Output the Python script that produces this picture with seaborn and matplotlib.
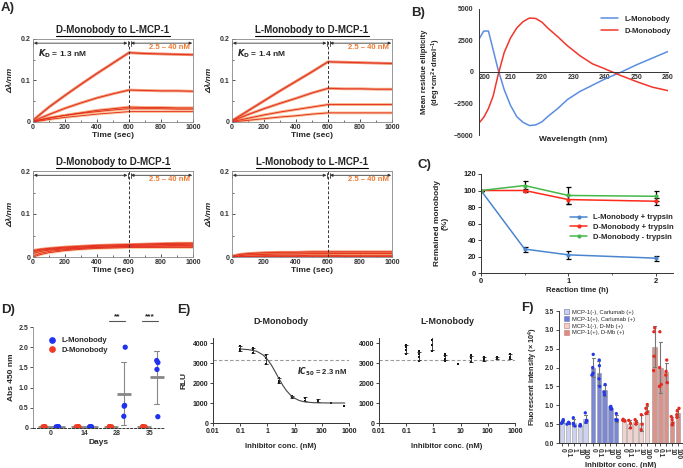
import numpy as np
import pandas as pd
import matplotlib
matplotlib.use("Agg")
import matplotlib.pyplot as plt
import seaborn as sns
from matplotlib.lines import Line2D
from matplotlib.patches import Patch

# ---------------- A) BLI sensorgrams, 2.5 - 40 nM ----------------
time_sec = [0, 50, 100, 200, 300, 400, 500, 600, 700, 800, 900, 1000]
dmono_lmcp = [
    [0.004, 0.020, 0.036, 0.064, 0.091, 0.117, 0.142, 0.167, 0.165, 0.164, 0.163, 0.162],
    [0.002, 0.010, 0.018, 0.033, 0.046, 0.058, 0.068, 0.077, 0.076, 0.075, 0.075, 0.074],
    [0.001, 0.005, 0.009, 0.016, 0.022, 0.028, 0.032, 0.036, 0.035, 0.035, 0.034, 0.034],
    [0.002, 0.006, 0.010, 0.016, 0.021, 0.025, 0.029, 0.032, 0.032, 0.032, 0.031, 0.031],
    [0.000, 0.003, 0.006, 0.011, 0.015, 0.019, 0.022, 0.025, 0.025, 0.025, 0.025, 0.025],
]
lmono_dmcp = [
    [0.003, 0.015, 0.027, 0.051, 0.075, 0.098, 0.121, 0.145, 0.144, 0.143, 0.142, 0.141],
    [0.002, 0.010, 0.018, 0.032, 0.045, 0.057, 0.070, 0.081, 0.080, 0.080, 0.079, 0.079],
    [0.001, 0.005, 0.009, 0.017, 0.024, 0.030, 0.036, 0.042, 0.042, 0.042, 0.042, 0.042],
    [0.000, 0.002, 0.004, 0.008, 0.012, 0.015, 0.019, 0.022, 0.022, 0.022, 0.022, 0.022],
]
dmono_dmcp = [
    [0.015, 0.018, 0.020, 0.023, 0.025, 0.027, 0.028, 0.029, 0.030, 0.031, 0.032, 0.032],
    [0.012, 0.016, 0.018, 0.021, 0.023, 0.025, 0.026, 0.027, 0.028, 0.029, 0.029, 0.030],
    [0.008, 0.013, 0.016, 0.019, 0.021, 0.023, 0.024, 0.025, 0.026, 0.026, 0.027, 0.027],
    [0.003, 0.009, 0.013, 0.017, 0.020, 0.022, 0.023, 0.024, 0.024, 0.025, 0.025, 0.025],
    [0.000, 0.006, 0.010, 0.015, 0.018, 0.020, 0.021, 0.022, 0.022, 0.022, 0.022, 0.022],
]
lmono_lmcp = [
    [0.002, 0.006, 0.008, 0.010, 0.011, 0.011, 0.012, 0.012, 0.012, 0.012, 0.012, 0.012],
    [0.000, 0.003, 0.005, 0.006, 0.007, 0.007, 0.008, 0.008, 0.008, 0.008, 0.008, 0.008],
    [0.000, 0.001, 0.002, 0.003, 0.003, 0.003, 0.004, 0.004, 0.003, 0.003, 0.003, 0.003],
    [0.000, 0.000, 0.001, 0.001, 0.001, 0.001, 0.001, 0.001, 0.001, 0.001, 0.001, 0.001],
]

# ---------------- B) CD spectra ----------------
wavelength = [200, 201.5, 203, 204.5, 206, 208, 210, 212, 214, 216, 218, 220, 222,
              225, 228, 232, 236, 240, 245, 250, 255, 260]
cd_L = [2600, 3250, 3250, 1750, 250, -1400, -2650, -3550, -4000, -4250, -4200, -3950, -3500,
        -2900, -2200, -1550, -1050, -550, -20, 570, 1100, 1630]
cd_D = [-4050, -3600, -2900, -1900, -300, 1550, 2700, 3500, 4000, 4280, 4250, 3950, 3450,
        2800, 2100, 1300, 650, 250, -280, -760, -1200, -1480]

# ---------------- C) trypsin digestion ----------------
reaction_h = [0, 0.5, 1, 2]
L_tryp = [100, 29, 22, 18]
L_tryp_err = [0, 3, 5, 3]
D_tryp = [100, 100, 89, 87]
D_tryp_err = [0, 2, 5, 4]
D_notryp = [100, 106, 94, 93]
D_notryp_err = [0, 6, 10, 6]

# ---------------- D) antibody titre ----------------
days = ['0', '14', '28', '35']
abs_L = [[0.03, 0.03, 0.03, 0.03], [0.03, 0.03, 0.03, 0.03],
         [2.00, 0.56, 0.54, 0.29], [1.67, 1.62, 1.45, 0.28]]
abs_D = [[0.03, 0.03, 0.03, 0.03], [0.03, 0.03, 0.03, 0.03],
         [0.03, 0.03, 0.03, 0.03], [0.03, 0.03, 0.03, 0.03]]

# ---------------- E) inhibition assay ----------------
inh_conc = [0.1, 0.3, 0.9, 2.7, 8.1, 24.3, 72.9, 218.7, 656.1]
rlu_D = [[3830, 3720, 3580], [3750, 3630, 3500], [3420, 3250, 2950], [2250, 2120, 2000],
         [1330, 1280], [1250, 1120], [1170, 1050], [1000], [830]]
rlu_L = [[3920, 3800, 3650, 3450], [3580, 3470, 3280, 3120], [4330, 4170, 3920, 3580],
         [3450, 3330, 3200, 3120], [2950], [3380, 3250, 3120, 3030], [3300, 3200, 3080],
         [3280, 3200], [3450, 3320, 3200]]
fit_conc = [0.1, 0.2, 0.4, 0.7, 1.0, 1.4, 2.0, 2.7, 3.7, 5.0, 7.0, 10, 15, 25, 50, 100, 300, 700]
fit_rlu = [3700, 3670, 3590, 3400, 3180, 2900, 2530, 2200, 1880, 1620, 1400, 1240, 1120,
           1050, 1015, 1005, 1000, 1000]
rlu_baseline = 3150

# ---------------- F) fluorescence ----------------
F_conc = ['0', '0.1', '1', '10', '100']
F_groups = ['MCP-1(-), Carlumab (+)', 'MCP-1(+), Carlumab (+)',
            'MCP-1(-), D-Mb (+)', 'MCP-1(+), D-Mb (+)']
F_carl_neg = [[0.62, 0.58, 0.55, 0.52], [0.55, 0.50, 0.52], [0.67, 0.52, 0.50, 0.45],
              [0.49, 0.47, 0.45], [0.80, 0.60, 0.58, 0.55]]
F_carl_pos = [[2.35, 2.00, 1.85, 1.80], [2.20, 2.05, 1.70, 1.50], [1.55, 1.35, 1.28],
              [0.97, 0.95, 0.90, 0.90], [0.78, 0.62, 0.60, 0.60]]
F_dmb_neg = [[0.63, 0.60, 0.58], [0.60, 0.52, 0.40], [0.62, 0.55, 0.50],
             [0.75, 0.50, 0.35], [1.02, 0.92, 0.82, 0.78]]
F_dmb_pos = [[3.05, 2.95, 2.30, 1.92], [2.95, 2.00, 1.55, 1.50], [2.20, 1.90, 1.80, 1.60],
             [0.70, 0.62, 0.52, 0.48], [0.92, 0.85, 0.75, 0.68]]

# ---------------- style ----------------
sns.set_theme(style='ticks')
plt.rcParams['font.family'] = ['Liberation Sans', 'DejaVu Sans']
plt.rcParams['font.weight'] = 'bold'
plt.rcParams['axes.labelweight'] = 'bold'
plt.rcParams['axes.titleweight'] = 'bold'
plt.rcParams['axes.linewidth'] = 0.7
plt.rcParams['axes.edgecolor'] = '#333333'
plt.rcParams['xtick.major.size'] = 2
plt.rcParams['ytick.major.size'] = 2
plt.rcParams['xtick.major.width'] = 0.6
plt.rcParams['ytick.major.width'] = 0.6
plt.rcParams['xtick.major.pad'] = 1.5
plt.rcParams['ytick.major.pad'] = 1.5
plt.rcParams['mathtext.default'] = 'regular'

W, H = 683, 468
fig = plt.figure(figsize=(W / 100, H / 100), dpi=100)


def box(l, t, r, b):
    return fig.add_axes([l / W, 1 - b / H, (r - l) / W, (b - t) / H])


def label(x, y, s):
    fig.text(x / W, 1 - y / H, s, ha='left', va='top', fontsize=9.5, fontweight='bold')


trace_colors = ['#e85522', '#ee7035', '#f28a48', '#f5a060', '#f7b47a']
fit_red = '#e3261c'


def draw_sensorgram(ax, curves, title, kd=None):
    n = len(curves)
    df = pd.DataFrame({
        'time': np.tile(time_sec, n),
        'shift': np.concatenate(curves),
        'conc': np.repeat(['c%d' % i for i in range(n)], len(time_sec)),
    })
    sns.lineplot(data=df, x='time', y='shift', hue='conc', palette=trace_colors[:n],
                 linewidth=2.0, alpha=0.7, legend=False, ax=ax)
    sns.lineplot(data=df, x='time', y='shift', hue='conc', palette=[fit_red] * n,
                 linewidth=0.6, legend=False, ax=ax)
    ax.axvline(600, color='#333333', ls=(0, (3, 2)), lw=0.7)
    ax.annotate('', xy=(5, 0.19), xytext=(590, 0.19),
                arrowprops=dict(arrowstyle='<|-|>', color='#333333', lw=0.6,
                                mutation_scale=4, shrinkA=0, shrinkB=0))
    ax.annotate('', xy=(612, 0.19), xytext=(995, 0.19),
                arrowprops=dict(arrowstyle='<|-|>', color='#333333', lw=0.6,
                                mutation_scale=4, shrinkA=0, shrinkB=0))
    for xe in (3, 592, 610, 997):
        ax.plot([xe, xe], [0.184, 0.196], color='#333333', lw=0.6)
    ax.text(980, 0.18, '2.5 – 40 nM', color='#f07a30', fontsize=5.5, ha='right', va='center')
    if kd:
        ax.text(30, 0.163, '$\\mathbfit{K}_{\\mathbf{D}}$' + ' = %s' % kd, fontsize=6,
                ha='left', va='center')
    ax.set_xlim(0, 1000)
    ax.set_ylim(0, 0.2)
    ax.set_xticks(range(0, 1001, 200))
    ax.set_xticks(range(100, 1000, 200), minor=True)
    ax.set_yticks([0, 0.1, 0.2])
    ax.set_yticklabels(['0', '0.1', '0.2'])
    ax.set_yticks([0.05, 0.15], minor=True)
    ax.tick_params(which='both', direction='in', labelsize=5, colors='#333333')
    ax.tick_params(which='minor', length=1.5, width=0.5)
    for s in ax.spines.values():
        s.set_color('#888888')
        s.set_linewidth(0.6)
    ax.set_xlabel('Time (sec)', fontsize=6, labelpad=1)
    ax.set_ylabel('Δλ/nm', fontsize=6, style='italic')
    ax.yaxis.set_label_coords(-0.12, 0.5)
    return ax.set_title(title, fontsize=7, pad=4)


titles = []
a1 = box(33, 39, 193, 122)
titles.append(draw_sensorgram(a1, dmono_lmcp, 'D-Monobody to L-MCP-1', '1.3 nM'))
a2 = box(232, 39, 392, 122)
titles.append(draw_sensorgram(a2, lmono_dmcp, 'L-Monobody to D-MCP-1', '1.4 nM'))
a3 = box(33, 171, 193, 257)
titles.append(draw_sensorgram(a3, dmono_dmcp, 'D-Monobody to D-MCP-1'))
a4 = box(232, 171, 392, 257)
titles.append(draw_sensorgram(a4, lmono_lmcp, 'L-Monobody to L-MCP-1'))

# ---------------- B ----------------
axb = box(479, 9, 668, 135)
cd_df = pd.DataFrame({'wl': wavelength * 2, 'cd': cd_L + cd_D,
                      'form': ['L-Monobody'] * len(cd_L) + ['D-Monobody'] * len(cd_D)})
sns.lineplot(data=cd_df, x='wl', y='cd', hue='form',
             palette={'L-Monobody': '#5b8de0', 'D-Monobody': '#f2352a'}, lw=1.1, ax=axb)
axb.set_xlim(200, 260)
axb.set_ylim(-5000, 5000)
axb.set_xticks(range(200, 261, 10))
axb.set_yticks([-5000, -2500, 0, 2500, 5000])
axb.spines['bottom'].set_position(('data', 0))
axb.spines[['top', 'right']].set_visible(False)
axb.tick_params(labelsize=5, colors='#333333', length=0)
axb.tick_params(axis='y', pad=4)
axb.get_xticklabels()[0].set_ha('left')
axb.set_xlabel('Wavelength (nm)', fontsize=6, va='top')
axb.xaxis.set_label_coords(0.5, -0.01)
axb.set_ylabel('Mean residue ellipticity\n(deg•cm$^2$•dmol$^{-1}$)', fontsize=5.5, linespacing=1.2)
axb.yaxis.set_label_coords(-0.19, 0.5)
axb.legend(loc='center right', bbox_to_anchor=(1.05, 0.87), frameon=False, fontsize=5.5,
           handlelength=2.2, labelspacing=0.6, title=None)

# ---------------- C ----------------
axc = box(481, 174, 673, 273)
c_names = ['L-Monobody + trypsin', 'D-Monobody + trypsin', 'D-Monobody - trypsin']
c_vals = [L_tryp, D_tryp, D_notryp]
c_errs = [L_tryp_err, D_tryp_err, D_notryp_err]
c_cols = ['#4a86d0', '#ff2a1a', '#45b84a']
c_df = pd.DataFrame({'time': reaction_h * 3, 'value': sum(c_vals, []),
                     'series': np.repeat(c_names, len(reaction_h))})
for v, e in zip(c_vals, c_errs):
    axc.errorbar(reaction_h, v, yerr=e, fmt='none', ecolor='black', elinewidth=0.9,
                 capsize=1.8, capthick=0.9, zorder=1)
sns.lineplot(data=c_df, x='time', y='value', hue='series', palette=c_cols, marker='o',
             markersize=3, markeredgewidth=0, lw=1.1, ax=axc, zorder=2)
axc.set_xlim(0, 2.2)
axc.set_ylim(0, 120)
axc.set_xticks([0, 1, 2])
axc.set_xticks([0.5, 1.5], minor=True)
axc.set_yticks(range(0, 121, 20))
axc.spines[['top', 'right']].set_visible(False)
axc.tick_params(labelsize=5.5, colors='#222222')
axc.tick_params(which='minor', length=1.5, width=0.5)
axc.set_xlabel('Reaction time (h)', fontsize=5.5, labelpad=1.5)
axc.set_ylabel('Remained monobody\n(%)', fontsize=6, linespacing=1.1)
axc.yaxis.set_label_coords(-0.17, 0.5)
axc.legend(loc='center right', bbox_to_anchor=(1.04, 0.46), frameon=False, fontsize=5.5,
           handlelength=2.2, labelspacing=0.3, title=None)

# ---------------- D ----------------
axd = box(33, 327, 165, 428)
d_rows = []
for i, d in enumerate(days):
    for v in abs_D[i]:
        d_rows.append((d, 'D-Monobody', v))
    for v in abs_L[i]:
        d_rows.append((d, 'L-Monobody', v))
d_df = pd.DataFrame(d_rows, columns=['day', 'mono', 'abs'])
d_pal = {'D-Monobody': '#f03a22', 'L-Monobody': '#1f32f0'}
sns.pointplot(data=d_df, x='day', y='abs', hue='mono', hue_order=['D-Monobody', 'L-Monobody'],
              palette={'D-Monobody': '#888888', 'L-Monobody': '#888888'}, dodge=0.4,
              errorbar='sd', capsize=0.15, markers='_', markersize=10, linestyle='none',
              err_kws={'linewidth': 0.8}, legend=False, ax=axd)
sns.stripplot(data=d_df, x='day', y='abs', hue='mono', hue_order=['D-Monobody', 'L-Monobody'],
              palette=d_pal, dodge=True, jitter=0.1, size=3.8, linewidth=0, legend=False,
              ax=axd, zorder=3)
axd.set_xlim(-0.55, 3.45)
axd.set_ylim(0, 2.5)
axd.set_yticks([0, 0.5, 1.0, 1.5, 2.0, 2.5])
axd.set_yticklabels(['0', '0.5', '1.0', '1.5', '2.0', '2.5'])
axd.spines[['top', 'right']].set_visible(False)
axd.spines['left'].set_color('#999999')
axd.spines['bottom'].set_linestyle((0, (2, 2)))
axd.tick_params(labelsize=5, colors='#333333')
axd.tick_params(axis='x', length=0)
axd.set_xlabel('Days', fontsize=6, labelpad=1.5)
axd.set_ylabel('Abs 450 nm', fontsize=6)
axd.yaxis.set_label_coords(-0.14, 0.5)
for i, stars in ((2, '**'), (3, '***')):
    axd.plot([i - 0.25, i + 0.25], [2.65, 2.65], color='#555555', lw=0.8, clip_on=False)
    axd.text(i, 2.66, stars, ha='center', va='bottom', fontsize=6, clip_on=False)
axd.legend(handles=[Line2D([], [], marker='o', ls='', color=d_pal['L-Monobody'], markersize=3.8,
                           label='L-Monobody'),
                    Line2D([], [], marker='o', ls='', color=d_pal['D-Monobody'], markersize=3.8,
                           label='D-Monobody')],
           loc='upper left', bbox_to_anchor=(0.06, 0.93), frameon=False, fontsize=5.5,
           handletextpad=0.3, labelspacing=0.3, borderaxespad=0)


# ---------------- E ----------------
def draw_inhibition(ax, reps, title):
    rows = [(c, v) for c, vals in zip(inh_conc, reps) for v in vals]
    df = pd.DataFrame(rows, columns=['conc', 'rlu'])
    ax.set_xscale('log')
    ax.axhline(rlu_baseline, color='#999999', ls=(0, (3, 2)), lw=0.8)
    sns.lineplot(data=df, x='conc', y='rlu', estimator='mean', errorbar='sd', err_style='bars',
                 linestyle='', err_kws={'capsize': 1.2, 'elinewidth': 0.6, 'capthick': 0.6,
                                        'ecolor': '#222222'}, ax=ax)
    sns.scatterplot(data=df, x='conc', y='rlu', marker='s', s=4, color='#111111',
                    linewidth=0, ax=ax)
    ax.set_xlim(0.01, 1000)
    ax.set_ylim(0, 4250)
    ax.set_xticks([0.01, 0.1, 1, 10, 100, 1000])
    ax.set_xticklabels(['0.01', '0.1', '1', '10', '100', '1000'])
    ax.minorticks_off()
    ax.set_yticks(range(0, 4001, 1000))
    ax.spines[['top', 'right']].set_visible(False)
    ax.tick_params(labelsize=5, colors='#222222')
    ax.set_xlabel('Inhibitor conc. (nM)', fontsize=5.5, labelpad=6)
    ax.set_ylabel('')
    ax.set_title(title, fontsize=6.5, pad=10)


axe1 = box(213, 338, 349, 423)
draw_inhibition(axe1, rlu_D, 'D-Monobody')
sns.lineplot(x=fit_conc, y=fit_rlu, color='#444444', lw=0.8, ax=axe1)
axe1.text(12, 2550, '$\\mathbfit{IC}_{\\mathbf{50}}$ = 2.3 nM', fontsize=5.5, ha='left',
          va='center')
axe1.set_ylabel('RLU', fontsize=6)
axe1.yaxis.set_label_coords(-0.19, 0.5)
axe2 = box(379, 338, 515, 423)
draw_inhibition(axe2, rlu_L, 'L-Monobody')

# ---------------- F ----------------
axf = box(559, 311, 683, 443)
f_sets = [F_carl_neg, F_carl_pos, F_dmb_neg, F_dmb_pos]
f_rows = []
for g, (name, reps) in enumerate(zip(F_groups, f_sets)):
    for i, vals in enumerate(reps):
        for v in vals:
            f_rows.append((name, g * 5.3 + i, 'blue' if g < 2 else 'red', v))
f_df = pd.DataFrame(f_rows, columns=['group', 'pos', 'dot', 'value'])
bar_cols = ['#c7cef7', '#6c7ce6', '#f6cec8', '#e8877d']
sns.barplot(data=f_df, x='pos', y='value', hue='group', hue_order=F_groups, palette=bar_cols,
            native_scale=True, dodge=False, width=0.75, errorbar='sd', capsize=0.5,
            err_kws={'color': '#777777', 'linewidth': 0.8}, edgecolor='#999999', linewidth=0.4,
            legend=False, ax=axf)
sns.stripplot(data=f_df, x='pos', y='value', hue='dot',
              palette={'blue': '#2438e6', 'red': '#e8281e'}, native_scale=True, jitter=0.22,
              size=2.4, linewidth=0, legend=False, ax=axf, zorder=3)
f_pos = sorted(f_df['pos'].unique())
axf.set_xticks(f_pos)
axf.set_xticklabels(F_conc * 4, rotation=270, fontsize=4.8)
axf.set_xlim(-0.57, 20.8)
axf.set_ylim(0, 3.5)
axf.set_yticks(np.arange(0, 3.51, 0.5))
axf.set_yticklabels(['%.1f' % v for v in np.arange(0, 3.51, 0.5)])
axf.spines[['top', 'right']].set_visible(False)
axf.tick_params(labelsize=4.8, colors='#333333')
axf.set_xlabel('Inhibitor conc. (nM)', fontsize=5.5, labelpad=2)
axf.set_ylabel('Fluorescent intensity (× 10$^4$)', fontsize=5.2)
axf.yaxis.set_label_coords(-0.15, 0.5)
axf.legend(handles=[Patch(facecolor=c, edgecolor='#8888aa' if k < 2 else '#c09090', lw=0.5,
                          label=n) for k, (c, n) in enumerate(zip(bar_cols, F_groups))],
           loc='upper left', bbox_to_anchor=(0.02, 1.03), frameon=False, fontsize=4.2,
           handlelength=0.9, handleheight=0.9, handletextpad=0.5, labelspacing=0.25,
           borderaxespad=0, prop={'weight': 'normal', 'size': 4.2})

# panel letters
label(1, 2, 'A)')
label(411, 7, 'B)')
label(417, 159, 'C)')
label(1, 304, 'D)')
label(177, 304, 'E)')
label(521, 302, 'F)')

# underline panel A titles
fig.canvas.draw()
renderer = fig.canvas.get_renderer()
for t in titles:
    bb = t.get_window_extent(renderer).transformed(fig.transFigure.inverted())
    fig.add_artist(Line2D([bb.x0, bb.x1], [bb.y0 - 0.5 / H, bb.y0 - 0.5 / H],
                          transform=fig.transFigure, color='black', lw=0.8))

fig.savefig('out.png', dpi=100)
